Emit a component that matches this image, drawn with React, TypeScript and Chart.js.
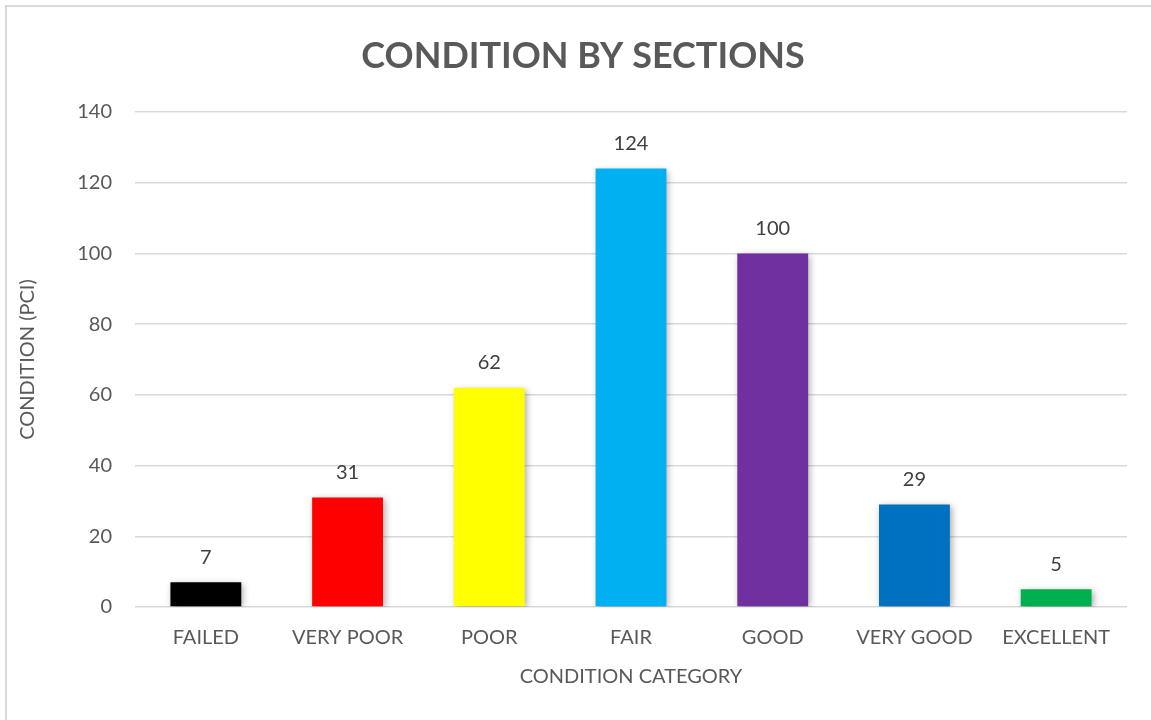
import React, { useEffect, useRef } from "react";
import { Chart, registerables } from "chart.js";

Chart.register(...registerables);

const categories = ["FAILED", "VERY POOR", "POOR", "FAIR", "GOOD", "VERY GOOD", "EXCELLENT"];
const sectionCounts = [7, 31, 62, 124, 100, 29, 5];
const barColors = ["#000000", "#FF0000", "#FFFF00", "#00B0F0", "#7030A0", "#0070C0", "#00B050"];
const yTicks = [0, 20, 40, 60, 80, 100, 120, 140];
const chartTitle = "CONDITION BY SECTIONS";

const FONT = "Lato, 'Open Sans', sans-serif";

const shadowPlugin = {
  id: "barShadow",
  beforeDatasetsDraw(chart: any) {
    const ctx = chart.ctx;
    ctx.save();
    ctx.shadowColor = "rgba(0,0,0,0.35)";
    ctx.shadowBlur = 7;
    ctx.shadowOffsetX = 2;
    ctx.shadowOffsetY = 2;
  },
  afterDatasetsDraw(chart: any) {
    chart.ctx.restore();
  },
};

const labelPlugin = {
  id: "valueLabels",
  afterDraw(chart: any) {
    const ctx = chart.ctx;
    const meta = chart.getDatasetMeta(0);
    ctx.save();
    ctx.font = `20px ${FONT}`;
    ctx.fillStyle = "#404040";
    ctx.textAlign = "center";
    ctx.textBaseline = "middle";
    meta.data.forEach((bar: any, i: number) => {
      ctx.fillText(String(sectionCounts[i]), bar.x, bar.y - 25);
    });
    ctx.font = `bold 36px ${FONT}`;
    ctx.fillStyle = "#595959";
    ctx.textBaseline = "alphabetic";
    ctx.fillText(chartTitle, 583, 68);
    ctx.restore();
  },
};

export default function App() {
  const canvasRef = useRef<HTMLCanvasElement | null>(null);

  useEffect(() => {
    if (!canvasRef.current) return;
    const chart = new Chart(canvasRef.current, {
      type: "bar",
      data: {
        labels: categories,
        datasets: [
          {
            label: "Sections",
            data: sectionCounts,
            backgroundColor: barColors,
            borderWidth: 0,
            barPercentage: 0.5,
            categoryPercentage: 1,
          },
        ],
      },
      options: {
        animation: false,
        responsive: false,
        maintainAspectRatio: false,
        layout: { padding: { left: 0, right: 24, top: 112, bottom: 0 } },
        plugins: {
          legend: { display: false },
          tooltip: { enabled: false },
          title: { display: false },
        },
        scales: {
          x: {
            grid: { display: false, drawTicks: false },
            border: { display: false },
            ticks: {
              color: "#595959",
              font: { family: FONT, size: 20 },
              padding: 19,
              maxRotation: 0,
              autoSkip: false,
            },
            title: {
              display: true,
              text: "CONDITION CATEGORY",
              color: "#595959",
              font: { family: FONT, size: 20 },
              padding: { top: 0, bottom: 31 },
            },
            afterFit(scale: any) {
              scale.height = 113;
            },
          },
          y: {
            min: 0,
            max: 140,
            afterBuildTicks(scale: any) {
              scale.ticks = yTicks.map((v) => ({ value: v }));
            },
            grid: { color: "#D9D9D9", lineWidth: 1.5, drawTicks: false },
            border: { display: false },
            ticks: {
              color: "#595959",
              font: { family: FONT, size: 20 },
              padding: 23,
            },
            title: {
              display: true,
              text: "CONDITION (PCI)",
              color: "#595959",
              font: { family: FONT, size: 20 },
              padding: { top: 16, bottom: 0 },
            },
            afterFit(scale: any) {
              scale.width = 135;
            },
          },
        },
      },
      plugins: [shadowPlugin, labelPlugin],
    });
    return () => chart.destroy();
  }, []);

  return (
    <div
      style={{
        position: "fixed",
        left: 0,
        top: 0,
        width: 1151,
        height: 720,
        overflow: "hidden",
        background: "#ffffff",
      }}
    >
      <div
        style={{
          position: "absolute",
          left: 5,
          top: 5,
          width: 1170,
          height: 740,
          border: "2px solid #D9D9D9",
          boxSizing: "border-box",
        }}
      />
      <canvas
        ref={canvasRef}
        width={1151}
        height={720}
        style={{ position: "absolute", left: 0, top: 0, width: 1151, height: 720 }}
      />
    </div>
  );
}
